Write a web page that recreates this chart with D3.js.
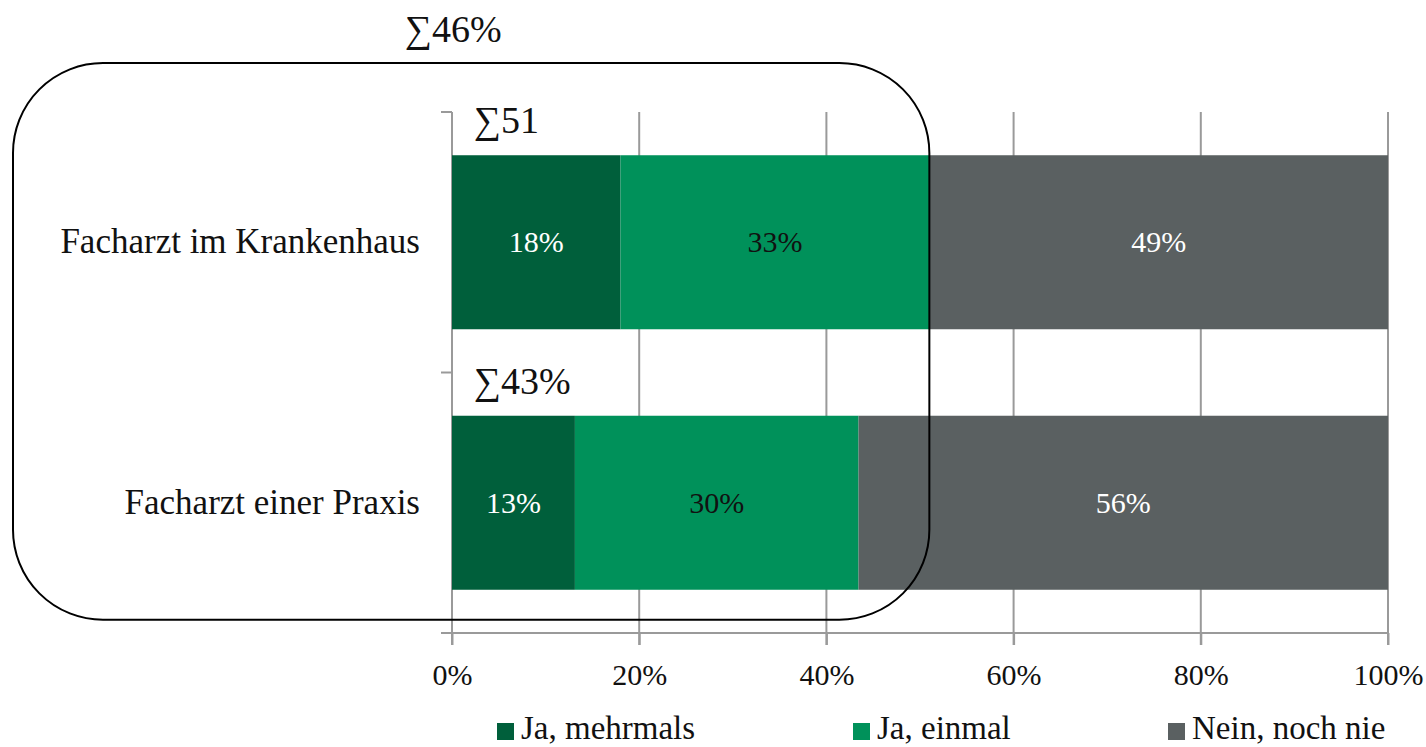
<!DOCTYPE html>
<html>
<head>
<meta charset="utf-8">
<script src="https://cdn.jsdelivr.net/npm/d3@7"></script>
<style>
	body { margin: 0; background: #fff; }
	svg { display: block; font-family: "Liberation Serif", "Times New Roman", serif; }
</style>
</head>
<body>
<div id="chart"></div>
<script>
// chart values
const categories = ['Facharzt im Krankenhaus', 'Facharzt einer Praxis'];
const seriesKeys = ['Ja, mehrmals', 'Ja, einmal', 'Nein, noch nie'];
const mehrmals = [18, 13];
const einmal = [33, 30];
const nochNie = [49, 56];
const totalOverall = 46;
const xTicks = [0, 0.2, 0.4, 0.6, 0.8, 1];

const colors = ['#005f3b', '#00915a', '#5a6061'];
const labelColors = ['#fff', '#111', '#fff'];

const rows = categories.map((c, i) => ({
	category: c,
	'Ja, mehrmals': mehrmals[i],
	'Ja, einmal': einmal[i],
	'Nein, noch nie': nochNie[i]
}));

const width = 1426;
const height = 747;
const plot = {left: 452, right: 1388, top: 112, bottom: 633};

const svg = d3.select('#chart').append('svg')
	.attr('width', width)
	.attr('height', height);

const x = d3.scaleLinear().domain([0, 1]).range([plot.left, plot.right]);
const y = d3.scaleBand()
	.domain(categories)
	.range([plot.top, plot.bottom])
	.paddingInner(0.332)
	.paddingOuter(0.166);

// rows are normalised to 100% like the original
const stacked = d3.stack().keys(seriesKeys).offset(d3.stackOffsetExpand)(rows);

// gridlines
svg.append('g')
	.selectAll('line')
	.data(xTicks)
	.join('line')
	.attr('x1', d => x(d)).attr('x2', d => x(d))
	.attr('y1', plot.top).attr('y2', plot.bottom + 12)
	.attr('stroke', '#9a9a9a')
	.attr('stroke-width', 2);

// category axis line + ticks at band boundaries
const halfGap = y.step() * y.paddingInner() / 2;
const yBounds = categories.map(c => y(c) - halfGap).concat([plot.bottom]);
svg.append('line')
	.attr('x1', plot.left).attr('x2', plot.left)
	.attr('y1', plot.top).attr('y2', plot.bottom)
	.attr('stroke', '#9a9a9a').attr('stroke-width', 2);
svg.append('g')
	.selectAll('line')
	.data(yBounds)
	.join('line')
	.attr('x1', plot.left - 11).attr('x2', plot.left)
	.attr('y1', d => d).attr('y2', d => d)
	.attr('stroke', '#9a9a9a').attr('stroke-width', 2);

// x axis
const xAxis = svg.append('g')
	.attr('transform', `translate(0,${plot.bottom})`)
	.call(d3.axisBottom(x).tickValues(xTicks).tickFormat(d3.format('.0%')).tickSize(12).tickPadding(19));
xAxis.select('.domain').remove();
xAxis.append('line')
	.attr('x1', plot.left - 11).attr('x2', plot.right)
	.attr('stroke', '#9a9a9a').attr('stroke-width', 2);
xAxis.selectAll('.tick line').attr('stroke', '#9a9a9a').attr('stroke-width', 2);
xAxis.selectAll('.tick text')
	.attr('font-family', '"Liberation Serif", serif')
	.attr('font-size', 30)
	.attr('fill', '#111');

// bars
const layers = svg.append('g')
	.selectAll('g')
	.data(stacked)
	.join('g')
	.attr('fill', (d, i) => colors[i]);

layers.selectAll('rect')
	.data(d => d)
	.join('rect')
	.attr('x', d => x(d[0]))
	.attr('width', d => x(d[1]) - x(d[0]))
	.attr('y', d => y(d.data.category))
	.attr('height', y.bandwidth());

// segment labels
svg.append('g')
	.selectAll('g')
	.data(stacked)
	.join('g')
	.attr('fill', (d, i) => labelColors[i])
	.selectAll('text')
	.data(d => d.map(v => ({v, key: d.key})))
	.join('text')
	.attr('x', d => x((d.v[0] + d.v[1]) / 2))
	.attr('y', d => y(d.v.data.category) + y.bandwidth() / 2 + 10)
	.attr('text-anchor', 'middle')
	.attr('font-size', 30)
	.text(d => d.v.data[d.key] + '%');

// category labels
svg.append('g')
	.selectAll('text')
	.data(categories)
	.join('text')
	.attr('x', plot.left - 32)
	.attr('y', d => y(d) + y.bandwidth() / 2 + 11)
	.attr('text-anchor', 'end')
	.attr('font-size', 35)
	.attr('fill', '#111')
	.text(d => d);

// sum annotations per row
svg.append('g')
	.selectAll('text')
	.data(rows)
	.join('text')
	.attr('x', x(0) + 22)
	.attr('y', d => y(d.category) - 22)
	.attr('font-size', 38)
	.attr('fill', '#111')
	.text((d, i) => '\u2211' + (d['Ja, mehrmals'] + d['Ja, einmal']) + (i === 0 ? '' : '%'));

// rounded frame around the "Ja" part
const frameRight = x(stacked[1][0][1]);
svg.append('rect')
	.attr('x', 13)
	.attr('y', plot.top - 49)
	.attr('width', frameRight - 13)
	.attr('height', y(categories[1]) + y.bandwidth() + 30 - (plot.top - 49))
	.attr('rx', 90)
	.attr('fill', 'none')
	.attr('stroke', '#000')
	.attr('stroke-width', 2);

svg.append('text')
	.attr('x', 405)
	.attr('y', 42)
	.attr('font-size', 38)
	.attr('fill', '#111')
	.text('\u2211' + totalOverall + '%');

// legend
const legendX = [497, 853, 1168];
const legend = svg.append('g')
	.selectAll('g')
	.data(seriesKeys)
	.join('g')
	.attr('transform', (d, i) => `translate(${legendX[i]},723)`);
legend.append('rect')
	.attr('width', 17).attr('height', 17)
	.attr('fill', (d, i) => colors[i]);
legend.append('text')
	.attr('x', 24)
	.attr('y', 16)
	.attr('font-size', 33)
	.attr('fill', '#111')
	.text(d => d);
</script>
</body>
</html>
